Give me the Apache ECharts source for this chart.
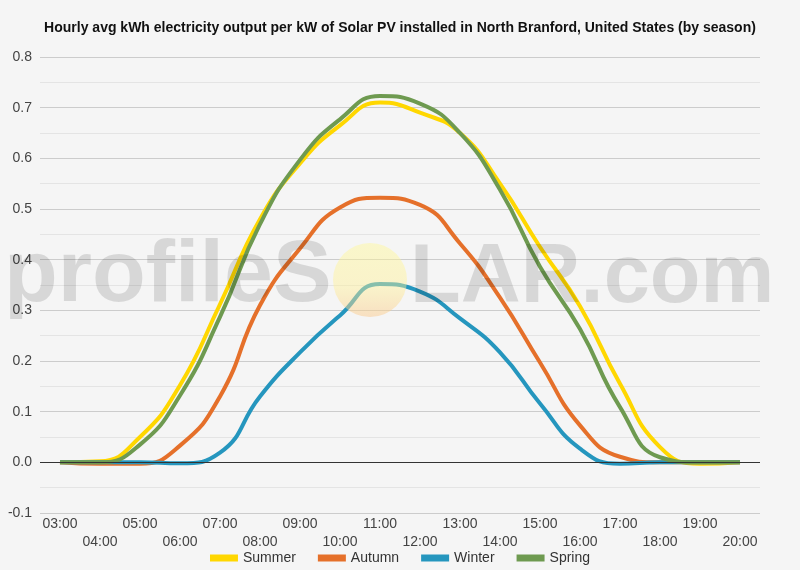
<!DOCTYPE html>
<html>
<head>
<meta charset="utf-8">
<script src="https://cdn.jsdelivr.net/npm/echarts@6/dist/echarts.min.js"></script>
<style>
  html, body { margin: 0; padding: 0; background: #f5f5f5; }
  #chart { width: 800px; height: 570px; }
</style>
</head>
<body>
<div id="chart"></div>
<script>
var hours = ["03:00", "04:00", "05:00", "06:00", "07:00", "08:00", "09:00", "10:00", "11:00",
  "12:00", "13:00", "14:00", "15:00", "16:00", "17:00", "18:00", "19:00", "20:00"];

var summer = [0, 0.002, 0.05, 0.152, 0.312, 0.48, 0.59, 0.665, 0.71, 0.69, 0.65, 0.55, 0.425, 0.308, 0.155, 0.03, -0.003, 0];
var autumn = [0, -0.003, -0.003, 0.033, 0.13, 0.31, 0.422, 0.503, 0.522, 0.508, 0.432, 0.325, 0.197, 0.073, 0.011, 0, 0, 0];
var winter = [0, 0, 0, -0.002, 0.019, 0.13, 0.217, 0.29, 0.352, 0.337, 0.284, 0.217, 0.116, 0.027, -0.003, 0, 0, 0];
var spring = [0, 0, 0.035, 0.132, 0.287, 0.47, 0.597, 0.677, 0.723, 0.708, 0.65, 0.538, 0.386, 0.263, 0.109, 0.01, 0, 0];

var myChart = echarts.init(document.getElementById("chart"));

function line(name, data, color) {
  return {
    name: name,
    type: "line",
    data: data,
    smooth: 0.5,
    symbol: "none",
    lineStyle: { width: 4, color: color },
    itemStyle: { color: color }
  };
}

var series = [
  line("Summer", summer, "#ffd700"),
  line("Autumn", autumn, "#e5702a"),
  line("Winter", winter, "#2596be"),
  line("Spring", spring, "#6e9a50")
];
// black line at zero
series[0].markLine = {
  silent: true,
  symbol: "none",
  label: { show: false },
  lineStyle: { color: "#333", width: 1, type: "solid" },
  data: [{ yAxis: 0 }]
};

var wmFont = "bold 88px 'Liberation Sans', Arial, sans-serif";

var option = {
  backgroundColor: "#f5f5f5",
  textStyle: { fontFamily: "Liberation Sans, Arial, sans-serif" },
  title: {
    text: "Hourly avg kWh electricity output per kW of Solar PV installed in North Branford, United States (by season)",
    left: "center",
    top: 16,
    textStyle: { fontSize: 14, fontWeight: "bold", color: "#111" }
  },
  legend: {
    bottom: 0,
    left: "center",
    itemWidth: 28,
    itemHeight: 7,
    itemGap: 22,
    icon: "rect",
    textStyle: { fontSize: 14, color: "#333" },
    data: ["Summer", "Autumn", "Winter", "Spring"]
  },
  grid: { left: 40, right: 40, top: 57, bottom: 57 },
  xAxis: {
    type: "category",
    data: hours,
    boundaryGap: true,
    axisLine: { show: false },
    axisTick: { show: false },
    axisLabel: {
      interval: 0,
      color: "#444",
      fontSize: 14,
      lineHeight: 18,
      margin: 2,
      formatter: function (v, i) { return i % 2 ? "\n" + v : v; }
    }
  },
  yAxis: {
    type: "value",
    min: -0.1,
    max: 0.8,
    interval: 0.1,
    axisLine: { show: false },
    axisTick: { show: false },
    axisLabel: {
      color: "#444",
      fontSize: 14,
      margin: 8,
      formatter: function (v) { return v.toFixed(1); }
    },
    splitLine: { lineStyle: { color: "#cccccc" } },
    minorTick: { show: false, splitNumber: 2 },
    minorSplitLine: { show: true, lineStyle: { color: "#e4e4e4" } }
  },
  graphic: [
    {
      type: "circle",
      z: 100,
      silent: true,
      shape: { cx: 370, cy: 280, r: 37 },
      style: {
        fill: new echarts.graphic.LinearGradient(0, 0, 0, 1, [
          { offset: 0, color: "rgba(255,248,150,0.45)" },
          { offset: 0.6, color: "rgba(255,240,150,0.45)" },
          { offset: 1, color: "rgba(250,200,140,0.5)" }
        ])
      }
    },
    {
      type: "text",
      z: 100,
      silent: true,
      style: {
        text: "profileS",
        x: 4,
        y: 277,
        align: "left",
        verticalAlign: "middle",
        font: wmFont,
        fill: "rgba(0,0,0,0.12)"
      }
    },
    {
      type: "text",
      z: 100,
      silent: true,
      style: {
        text: "LAR.com",
        x: 410,
        y: 279,
        align: "left",
        verticalAlign: "middle",
        font: "bold 83px 'Liberation Sans', Arial, sans-serif",
        fill: "rgba(0,0,0,0.12)"
      }
    }
  ],
  series: series
};

myChart.setOption(option);

window.addEventListener("resize", function () {
  myChart.resize();
});
</script>
</body>
</html>
